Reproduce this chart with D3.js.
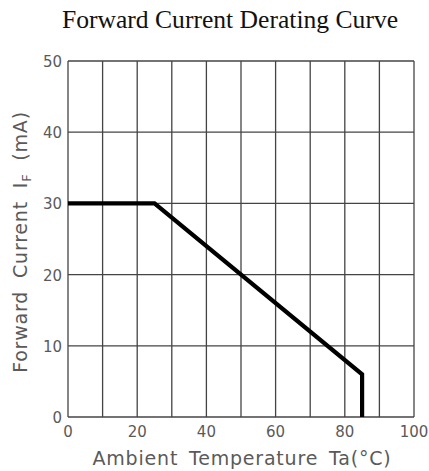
<!DOCTYPE html>
<html><head><meta charset="utf-8">
<script src="https://cdn.jsdelivr.net/npm/d3@7"></script>
<style>body{margin:0;background:#fff}</style>
</head><body>
<svg id="c" width="429" height="471"></svg>
<script>
const curveTemp = [0, 25, 85, 85];
const curveCurrent = [30, 30, 6, 0];
const xTicks = [0, 10, 20, 30, 40, 50, 60, 70, 80, 90, 100];
const xTickLabels = ["0", "", "20", "", "40", "", "60", "", "80", "", "100"];
const yTicks = [0, 10, 20, 30, 40, 50];
const yTickLabels = ["0", "10", "20", "30", "40", "50"];

const svg = d3.select("#c");
const m = {l: 68, r: 414, t: 61, b: 417};
const x = d3.scaleLinear().domain([0, 100]).range([m.l, m.r]);
const y = d3.scaleLinear().domain([0, 50]).range([m.b, m.t]);
const grid = "#444", txt = "#5a5a5a";

svg.append("text").attr("x", 230).attr("y", 28).attr("text-anchor", "middle")
  .attr("font-family", "Liberation Serif, Times New Roman, serif").attr("font-size", 25.6)
  .attr("fill", "#111").text("Forward Current Derating Curve");

const g = svg.append("g");
g.selectAll("line.v").data(xTicks).join("line")
  .attr("x1", d => x(d)).attr("x2", d => x(d)).attr("y1", y(0)).attr("y2", y(50))
  .attr("stroke", grid).attr("stroke-width", 1.3);
g.selectAll("line.h").data(yTicks).join("line")
  .attr("x1", x(0)).attr("x2", x(100)).attr("y1", d => y(d)).attr("y2", d => y(d))
  .attr("stroke", grid).attr("stroke-width", 1.3);

const font = "DejaVu Sans, sans-serif";
g.selectAll("text.y").data(yTicks).join("text")
  .attr("x", 62).attr("y", d => y(d) + 6)
  .attr("text-anchor", "end").attr("font-family", font).attr("font-size", 15).attr("fill", txt)
  .text((d, i) => yTickLabels[i]);
g.selectAll("text.x").data(xTicks).join("text")
  .attr("x", d => x(d)).attr("y", 437).attr("text-anchor", "middle")
  .attr("font-family", font).attr("font-size", 15).attr("fill", txt)
  .text((d, i) => xTickLabels[i]);

svg.append("text").attr("x", 242).attr("y", 465).attr("text-anchor", "middle")
  .attr("font-family", font).attr("font-size", 19).attr("letter-spacing", 0.8)
  .attr("word-spacing", 4).attr("fill", txt)
  .text("Ambient Temperature Ta(°C)");

const yl = svg.append("text").attr("transform", "translate(27,242) rotate(-90)")
  .attr("text-anchor", "middle").attr("font-family", font).attr("font-size", 19)
  .attr("letter-spacing", 0.8).attr("word-spacing", 6).attr("fill", txt);
yl.append("tspan").text("Forward Current I");
yl.append("tspan").attr("font-size", 13).attr("dy", 4).text("F");
yl.append("tspan").attr("dy", -4).text(" (mA)");

const pts = curveTemp.map((t, i) => [t, curveCurrent[i]]);
svg.append("path").datum(pts)
  .attr("d", d3.line().x(d => x(d[0])).y(d => y(d[1])))
  .attr("fill", "none").attr("stroke", "#000").attr("stroke-width", 4.2).attr("stroke-linejoin", "miter");
</script>
</body></html>
